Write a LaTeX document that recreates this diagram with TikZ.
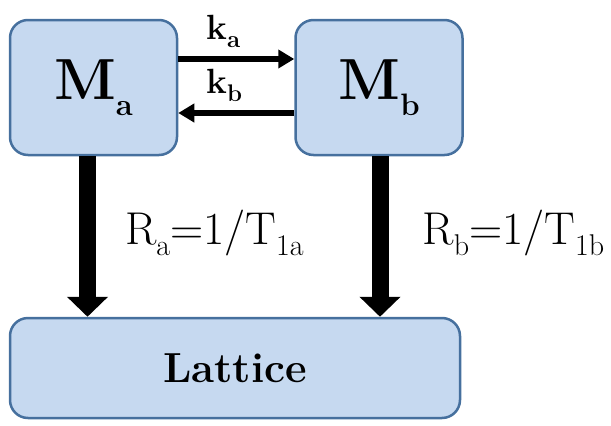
\documentclass[tikz,border=0pt]{standalone}
\usepackage{tikz}
\usetikzlibrary{arrows.meta,positioning}

\definecolor{boxfill}{RGB}{198,217,240}
\definecolor{boxline}{RGB}{70,112,158}

% lowered small text for subscripts: shift, size, text
\newcommand{\subtxt}[3]{\raisebox{-#1}{\fontsize{#2}{#2}\selectfont #3}}

\begin{document}
\begin{tikzpicture}[
  x=1pt, y=-1pt,
  node distance=116pt and 116pt,
  fontsize/.style={font=\fontsize{#1}{#1}\selectfont},
  mbox/.style={draw=boxline, fill=boxfill, line width=2.5pt, rounded corners=18pt,
               minimum width=167pt, minimum height=135pt, inner sep=0pt},
  latbox/.style={mbox, minimum width=450pt, minimum height=100pt},
  harr/.style={-{Triangle[length=16pt,width=18pt]}, line width=5.5pt},
  varr/.style={-{Triangle[length=20pt,width=40pt]}, line width=17pt},
  rate/.style={inner sep=0pt, anchor=base west, fontsize=46},
]
\useasboundingbox (0,0) rectangle (611,426);

\node[mbox, fontsize=58] (ma) at (93.5,87.5)
     {\textbf{M\subtxt{16pt}{31}{a}}\hspace{-6pt}};
\node[mbox, fontsize=58, right=of ma] (mb)
     {\textbf{M\subtxt{16pt}{31}{b}}\hspace{-6pt}};
\node[latbox, fontsize=42] (lat) at (235,368) {\textbf{Lattice}};

% exchange between the two sites
\draw[harr] ([yshift=28.5pt]ma.east) -- node[above=5pt, xshift=-13pt, fontsize=35]
     {\textbf{k\subtxt{8pt}{24}{a}}} ([yshift=28.5pt]mb.west);
\draw[harr] ([yshift=-25.5pt]mb.west) -- node[above=5pt, xshift=-12pt, fontsize=35]
     {\textbf{k\subtxt{8pt}{24}{b}}} ([yshift=-25.5pt]ma.east);

% relaxation to the lattice
\draw[varr] ([xshift=-6pt]ma.south) -- node[rate, pos=0.55, xshift=29pt]
     {R\subtxt{11pt}{30}{a}=1/T\subtxt{11pt}{30}{1a}} ([xshift=-6pt]ma.south |- lat.north);
\draw[varr] ([xshift=1pt]mb.south) -- node[rate, pos=0.55, xshift=34pt]
     {R\subtxt{11pt}{30}{b}=1/T\subtxt{11pt}{30}{1b}} ([xshift=1pt]mb.south |- lat.north);
\end{tikzpicture}
\end{document}
